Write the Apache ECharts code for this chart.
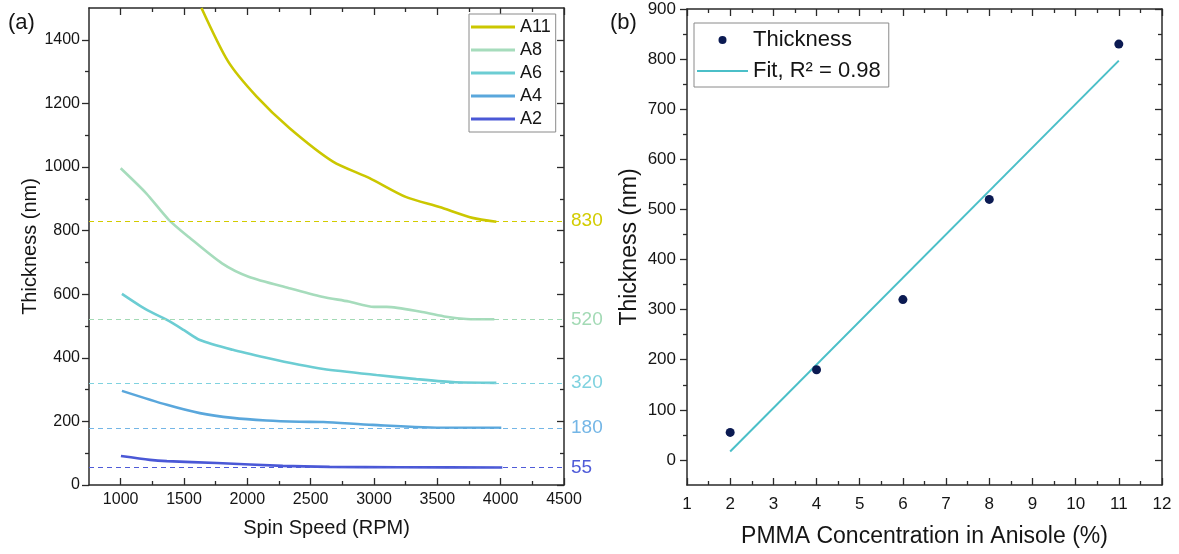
<!DOCTYPE html>
<html>
<head>
<meta charset="utf-8">
<script src="https://cdn.jsdelivr.net/npm/echarts@6/dist/echarts.min.js"></script>
<style>
  html, body { margin: 0; padding: 0; background: #fff; }
  #chart { width: 1179px; height: 554px; }
</style>
</head>
<body>
<div id="chart"></div>
<script>
// ---- panel (a): thickness vs spin speed, [rpm, nm]
const seriesNames = ['A11', 'A8', 'A6', 'A4', 'A2'];
const a11 = [[1638,1500],[1848,1332],[2072,1222],[2334,1122],[2676,1017],[2965,965],[3250,906],[3517,874],[3777,840],[3966,828]];
const a8 = [[1000,996],[1200,918],[1380,834],[1540,779],[1800,697],[2010,655],[2330,619],[2590,592],[2800,577],[3000,560],[3100,560],[3380,544],[3570,529],[3730,522],[3950,521]];
const a6 = [[1010,601],[1200,552],[1365,519],[1500,487],[1625,456],[1885,425],[2150,400],[2410,378],[2600,365],[3020,346],[3335,333],[3620,324],[3966,321]];
const a4 = [[1010,296],[1365,252],[1625,226],[1885,211],[2150,203],[2410,199],[2600,198],[2990,189],[3570,180],[4005,180]];
const a2 = [[1002,91],[1231,79],[1365,75],[1760,69],[2280,60],[2650,57],[3200,56],[4013,55]];
const finalLevels = [830, 520, 320, 180, 55];

// ---- panel (b): thickness vs PMMA concentration
const concentration = [2, 4, 6, 8, 11];
const thickness = [55, 180, 320, 520, 830];
const fitEnds = [[2, 17], [11, 797]];

// ---- tick values
const aXLabels = [1000, 1500, 2000, 2500, 3000, 3500, 4000, 4500];
const aXMinor = [1250, 1750, 2250, 2750, 3250, 3750, 4250];
const aYLabels = [0, 200, 400, 600, 800, 1000, 1200, 1400];
const aYMinor = [100, 300, 500, 700, 900, 1100, 1300];
const bXLabels = [1, 2, 3, 4, 5, 6, 7, 8, 9, 10, 11, 12];
const bXMinor = [1.5, 2.5, 3.5, 4.5, 5.5, 6.5, 7.5, 8.5, 9.5, 10.5, 11.5];
const bYLabels = [0, 100, 200, 300, 400, 500, 600, 700, 800, 900];
const bYMinor = [50, 150, 250, 350, 450, 550, 650, 750, 850];

const lineColors = ['#cbc700', '#a6dcbc', '#6ccdd3', '#5aa7dc', '#4a58d6'];
const levelColors = ['#d2cc00', '#a3dab5', '#7fd2df', '#74b6e6', '#4f5bd8'];
const FONT = '"Liberation Sans", Arial, sans-serif';
const AX = '#2a2a2a';
const TXT = '#151515';

const chart = echarts.init(document.getElementById('chart'));

// per side: labels axis (+ line), major ticks, minor ticks; mirror side: line + major, minor
function frameAxes(dim, grid, min, max, labels, minor, name, fs, nfs, gap, margin) {
  const isX = dim === 'x';
  const near = isX ? 'bottom' : 'left';
  const far = isX ? 'top' : 'right';
  const nearInside = isX;          // bottom ticks point in, left ticks point out
  const base = {gridIndex: grid, type: 'value', min: min, max: max, splitLine: {show: false}};
  const line = {onZero: false, lineStyle: {color: AX, width: 1.5}};
  const hidden = {show: false, onZero: false};
  const noLabel = {show: false};
  const tick = (vals, len, inside) => ({show: true, inside: inside, length: len, customValues: vals, lineStyle: {color: AX, width: 1.3}});
  const main = Object.assign({}, base, {
    position: near, name: name, nameLocation: 'middle', nameGap: gap,
    nameTextStyle: {fontSize: nfs, color: TXT, fontFamily: FONT},
    axisLine: line, axisTick: {show: false},
    axisLabel: {customValues: labels, fontSize: fs, color: TXT, margin: margin, fontFamily: FONT, formatter: v => String(v)}
  });
  if (!isX) main.nameRotate = 90;
  return [
    main,
    Object.assign({}, base, {position: near, axisLine: hidden, axisTick: tick(labels, 7, nearInside), axisLabel: noLabel}),
    Object.assign({}, base, {position: near, axisLine: hidden, axisTick: tick(minor, 4, nearInside), axisLabel: noLabel}),
    Object.assign({}, base, {position: far, axisLine: line, axisTick: tick(labels, 7, true), axisLabel: noLabel}),
    Object.assign({}, base, {position: far, axisLine: hidden, axisTick: tick(minor, 4, true), axisLabel: noLabel})
  ];
}

const aData = [a11, a8, a6, a4, a2];
const aSeries = seriesNames.map((n, i) => ({
  type: 'line',
  name: n,
  xAxisIndex: 0,
  yAxisIndex: 0,
  data: aData[i],
  symbol: 'none',
  smooth: 0.25,
  lineStyle: {color: lineColors[i], width: 2.6},
  itemStyle: {color: lineColors[i]},
  z: 3,
  markLine: {
    silent: true,
    symbol: 'none',
    animation: false,
    lineStyle: {type: [5, 4], width: 1, color: levelColors[i]},
    label: {position: 'end', distance: 7, fontSize: 19, color: levelColors[i], fontFamily: FONT},
    data: [{yAxis: finalLevels[i]}]
  }
}));

const fitName = 'Fit, R² = 0.98';

chart.setOption({
  animation: false,
  textStyle: {fontFamily: FONT},
  title: [
    {text: '(a)', left: 8, top: 12, padding: 0, textStyle: {fontSize: 22, fontWeight: 'normal', color: TXT, fontFamily: FONT}},
    {text: '(b)', left: 610, top: 12, padding: 0, textStyle: {fontSize: 22, fontWeight: 'normal', color: TXT, fontFamily: FONT}}
  ],
  grid: [
    {left: 89, top: 8, width: 475, height: 477},
    {left: 687, top: 9, width: 475, height: 476}
  ],
  legend: [
    {
      data: seriesNames, orient: 'vertical', left: 469, top: 14,
      icon: 'rect', itemWidth: 44, itemHeight: 3, itemGap: 5,
      padding: [4, 5, 4, 2], borderColor: '#8a8a8a', borderWidth: 1, backgroundColor: '#fff',
      textStyle: {fontSize: 18, color: TXT, fontFamily: FONT}
    },
    {
      data: [
        {name: 'Thickness', icon: 'circle'},
        {name: fitName, icon: 'path://M0,0 L51,0 L51,2 L0,2 Z'}
      ],
      orient: 'vertical', left: 694, top: 23,
      itemWidth: 51, itemHeight: 8, itemGap: 9,
      padding: [6, 8, 5, 3], borderColor: '#8a8a8a', borderWidth: 1, backgroundColor: '#fff',
      textStyle: {fontSize: 22, color: TXT, fontFamily: FONT}
    }
  ],
  xAxis: [
    ...frameAxes('x', 0, 750, 4500, aXLabels, aXMinor, 'Spin Speed (RPM)', 16, 20, 33, 7),
    ...frameAxes('x', 1, 1, 12, bXLabels, bXMinor, 'PMMA Concentration in Anisole (%)', 17, 23, 40, 11)
  ],
  yAxis: [
    ...frameAxes('y', 0, 0, 1500, aYLabels, aYMinor, 'Thickness (nm)', 16, 20, 48, 9),
    ...frameAxes('y', 1, -50, 900, bYLabels, bYMinor, 'Thickness (nm)', 17, 23, 46, 11)
  ],
  series: [
    ...aSeries,
    {
      type: 'scatter',
      name: 'Thickness',
      xAxisIndex: 5,
      yAxisIndex: 5,
      data: concentration.map((c, i) => [c, thickness[i]]),
      symbol: 'circle',
      symbolSize: 9,
      itemStyle: {color: '#0b1a52', opacity: 1},
      z: 4
    },
    {
      type: 'line',
      name: fitName,
      xAxisIndex: 5,
      yAxisIndex: 5,
      data: fitEnds,
      symbol: 'none',
      lineStyle: {color: '#4bbfc8', width: 2},
      itemStyle: {color: '#4bbfc8'},
      z: 3
    }
  ]
});
</script>
</body>
</html>
